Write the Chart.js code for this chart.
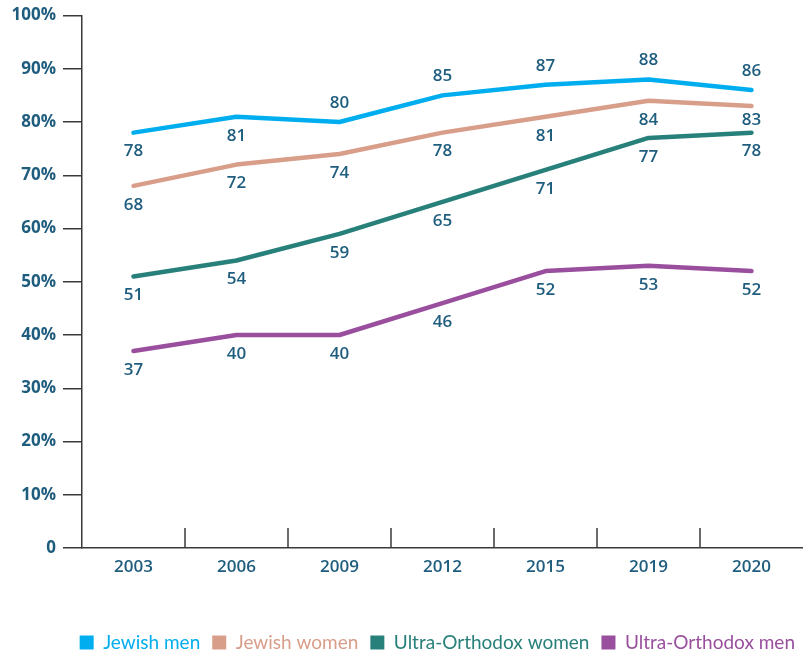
<!DOCTYPE html>
<html>
<head>
<meta charset="utf-8">
<script src="https://cdn.jsdelivr.net/npm/chart.js@4.4.1/dist/chart.umd.min.js"></script>
<style>
  html, body { margin: 0; padding: 0; background: #fff; }
  #wrap { width: 803px; height: 653px; }
</style>
</head>
<body>
<div id="wrap"><canvas id="chart"></canvas></div>
<script>
const years = ["2003", "2006", "2009", "2012", "2015", "2019", "2020"];
const jewishMen = [78, 81, 80, 85, 87, 88, 86];
const jewishWomen = [68, 72, 74, 78, 81, 84, 83];
const ultraOrthodoxWomen = [51, 54, 59, 65, 71, 77, 78];
const ultraOrthodoxMen = [37, 40, 40, 46, 52, 53, 52];
const yTicks = [0, 10, 20, 30, 40, 50, 60, 70, 80, 90, 100];

// where each value label sits relative to its point: "a" above, "b" below
const labelSide = {
  "Jewish men": ["b", "b", "a", "a", "a", "a", "a"],
  "Jewish women": ["b", "b", "b", "b", "b", "b", "b2"],
  "Ultra-Orthodox women": ["b", "b", "b", "b", "b", "b", "b"],
  "Ultra-Orthodox men": ["b", "b", "b", "b", "b", "b", "b"]
};

const textBlue = "#1f5d7e";
const font = "'Open Sans', 'Noto Sans', sans-serif";

function series(label, data, color) {
  return {
    label: label,
    data: data,
    borderColor: color,
    backgroundColor: color,
    borderWidth: 4.5,
    pointRadius: 0,
    tension: 0,
    borderCapStyle: "round",
    borderJoinStyle: "round"
  };
}

// value labels next to every point
const valueLabels = {
  id: "valueLabels",
  afterDatasetsDraw(chart) {
    const ctx = chart.ctx;
    ctx.save();
    ctx.font = "600 17px " + font;
    ctx.fillStyle = textBlue;
    ctx.textAlign = "center";
    ctx.textBaseline = "middle";
    chart.data.datasets.forEach((ds, i) => {
      const sides = labelSide[ds.label];
      chart.getDatasetMeta(i).data.forEach((pt, j) => {
        const s = sides[j];
        const dy = s === "a" ? -19 : (s === "b2" ? 14 : 19);
        ctx.fillText(String(ds.data[j]), pt.x, pt.y + dy);
      });
    });
    ctx.restore();
  }
};

// short dividers rising from the x axis between years
const yearDividers = {
  id: "yearDividers",
  afterDraw(chart) {
    const x = chart.scales.x;
    const bottom = chart.chartArea.bottom;
    const ctx = chart.ctx;
    ctx.save();
    ctx.strokeStyle = "#3a3a3a";
    ctx.lineWidth = 1.5;
    for (let i = 1; i < years.length; i++) {
      const px = (x.getPixelForValue(i - 1) + x.getPixelForValue(i)) / 2;
      ctx.beginPath();
      ctx.moveTo(px, bottom);
      ctx.lineTo(px, bottom - 20);
      ctx.stroke();
    }
    ctx.restore();
  }
};

new Chart(document.getElementById("chart"), {
  type: "line",
  data: {
    labels: years,
    datasets: [
      series("Jewish men", jewishMen, "#00aeef"),
      series("Jewish women", jewishWomen, "#d89e8a"),
      series("Ultra-Orthodox women", ultraOrthodoxWomen, "#28807a"),
      series("Ultra-Orthodox men", ultraOrthodoxMen, "#9a4f9e")
    ]
  },
  options: {
    responsive: true,
    maintainAspectRatio: false,
    animation: false,
    layout: { padding: { top: 5, right: -4, bottom: -9, left: 0 } },
    plugins: {
      tooltip: { enabled: false },
      legend: {
        position: "bottom",
        align: "end",
        labels: {
          boxWidth: 14,
          boxHeight: 14,
          padding: 12,
          font: { family: "Lato, 'Open Sans', sans-serif", size: 19 },
          generateLabels(chart) {
            return chart.data.datasets.map((ds, i) => ({
              text: ds.label,
              fillStyle: ds.borderColor,
              strokeStyle: ds.borderColor,
              lineWidth: 0,
              fontColor: ds.borderColor,
              datasetIndex: i
            }));
          }
        }
      }
    },
    scales: {
      x: {
        offset: true,
        grid: { display: false, drawTicks: false },
        border: { display: true, color: "#3a3a3a", width: 1.5 },
        ticks: {
          color: textBlue,
          padding: 9,
          font: { family: font, size: 17, weight: "600" }
        },
        afterFit(s) { s.height = 73; }
      },
      y: {
        min: 0,
        max: 100,
        afterBuildTicks(s) { s.ticks = yTicks.map(v => ({ value: v })); },
        grid: { drawOnChartArea: false, tickLength: 19, color: "#3a3a3a", lineWidth: 1.5 },
        border: { display: true, color: "#3a3a3a", width: 1.5 },
        ticks: {
          color: textBlue,
          padding: 7,
          font: { family: font, size: 17, weight: "700", lineHeight: 1 },
          callback: v => v === 0 ? "0" : v + "%"
        },
        afterFit(s) { s.width = 82; }
      }
    }
  },
  plugins: [valueLabels, yearDividers]
});
</script>
</body>
</html>
